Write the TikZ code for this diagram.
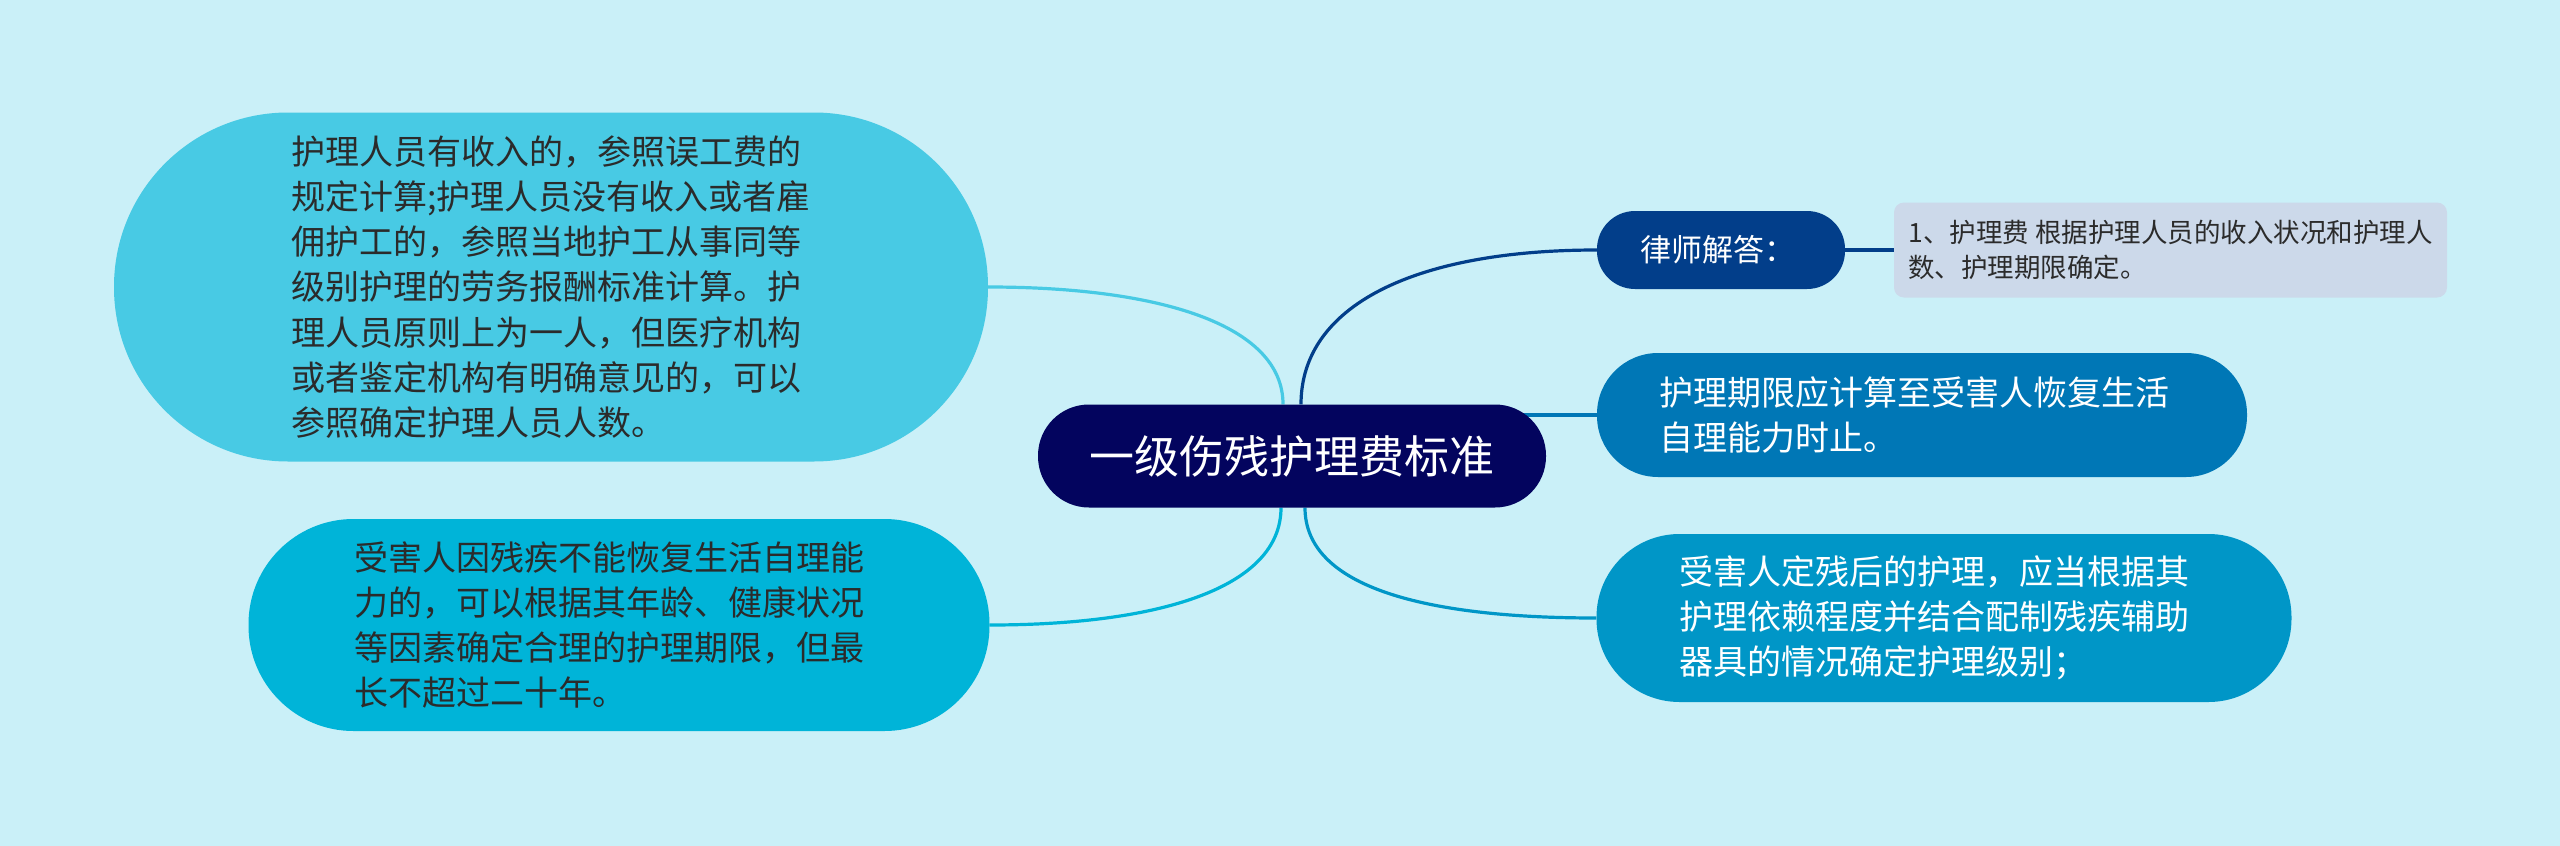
\documentclass[tikz,border=0pt]{standalone}
\usepackage{fontspec}
\setmainfont{Noto Sans CJK SC}
\usetikzlibrary{backgrounds}
\definecolor{bgc}{HTML}{CAF0F8}
\definecolor{cC}{HTML}{03045E}
\definecolor{cR1}{HTML}{023E8A}
\definecolor{cR2}{HTML}{0077B6}
\definecolor{cR3}{HTML}{0096C7}
\definecolor{cL2}{HTML}{00B4D8}
\definecolor{cL1}{HTML}{48CAE4}
\definecolor{cSub}{HTML}{CCD9EA}
\definecolor{txtd}{HTML}{2B2B2B}
\tikzset{
  pill/.style={draw=none, inner sep=0pt, align=left},
  conn/.style={line width=3.2pt},
}
\begin{document}
\begin{tikzpicture}[x=1pt,y=-1pt]
\useasboundingbox (0,0) rectangle (2560,846);

\node[pill, fill=cC, text=white, minimum width=508, minimum height=103, rounded corners=51,
  font=\fontsize{45}{50}\selectfont] (C) at (1292,456) {一级伤残护理费标准};

\node[pill, fill=cL1, text=txtd, minimum width=874, minimum height=349, rounded corners=174,
  font=\fontsize{34}{45.3}\selectfont] (L1) at (551,287) {护理人员有收入的，参照误工费的\\规定计算;护理人员没有收入或者雇\\佣护工的，参照当地护工从事同等\\级别护理的劳务报酬标准计算。护\\理人员原则上为一人，但医疗机构\\或者鉴定机构有明确意见的，可以\\参照确定护理人员人数。};

\node[pill, fill=cL2, text=txtd, minimum width=741, minimum height=212, rounded corners=105,
  font=\fontsize{34}{45.3}\selectfont] (L2) at (619,625) {受害人因残疾不能恢复生活自理能\hspace*{20pt}\\力的，可以根据其年龄、健康状况\\等因素确定合理的护理期限，但最\\长不超过二十年。};

\node[pill, fill=cR1, text=white, minimum width=248, minimum height=78, rounded corners=38,
  font=\fontsize{31}{36}\selectfont] (R1) at (1721,250) {律师解答：\hspace*{6pt}};

\node[pill, fill=cSub, text=txtd, minimum width=553, minimum height=95, rounded corners=10,
  font=\fontsize{26.5}{35}\selectfont] (R1c) at (2170.5,250) {1、护理费 根据护理人员的收入状况和护理人\\数、护理期限确定。};

\node[pill, fill=cR2, text=white, minimum width=650, minimum height=124, rounded corners=61,
  font=\fontsize{34}{45.3}\selectfont] (R2) at (1922,415) {护理期限应计算至受害人恢复生活\hspace*{16pt}\\自理能力时止。};

\node[pill, fill=cR3, text=white, minimum width=695, minimum height=168, rounded corners=83,
  font=\fontsize{34}{45.3}\selectfont] (R3) at (1944,618) {受害人定残后的护理，应当根据其\hspace*{20pt}\\护理依赖程度并结合配制残疾辅助\\器具的情况确定护理级别；};

\begin{scope}[on background layer]
\fill[bgc] (0,0) rectangle (2560,846);
\draw[conn, cL1] ([xshift=-9pt]C.north) .. controls +(0,-80) and +(170,0) .. (L1.east);
\draw[conn, cL2] ([xshift=-11pt]C.south) .. controls +(0,80) and +(170,0) .. (L2.east);
\draw[conn, cR1] ([xshift=9pt]C.north) .. controls +(0,-100) and +(-180,0) .. (R1.west);
\draw[conn, cR3] ([xshift=13pt]C.south) .. controls +(0,80) and +(-170,0) .. (R3.west);
\draw[conn, cR2] ([xshift=-30pt]C.east |- R2.west) -- (R2.west);
\draw[conn, cR1] (R1.east) -- (R1c.west);
\end{scope}
\end{tikzpicture}
\end{document}
